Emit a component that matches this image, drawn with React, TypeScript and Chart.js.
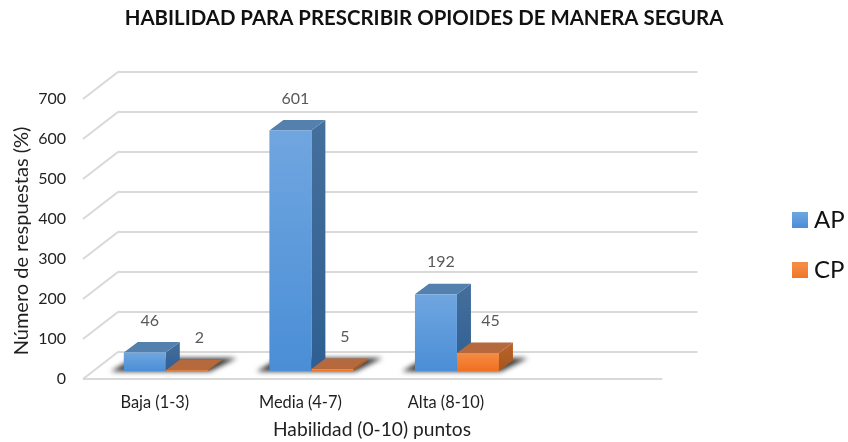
import React, { useEffect, useRef } from "react";
import { Chart, registerables } from "chart.js";

Chart.register(...registerables);

const categories = ["Baja (1-3)", "Media (4-7)", "Alta (8-10)", ""];
const apValues = [46, 601, 192, null];
const cpValues = [2, 5, 45, null];
const seriesNames = ["AP", "CP"];
const yTicksMax = 700;

const FONT = "Lato, Carlito, 'Open Sans', sans-serif";
const GRID = "#d9d9d9";
const DX = 14;
const DY = 10.5;

const palette = [
  { top: "#70a6e0", bottom: "#4a8ed6", roof: "#5480ad", sideA: "#456f9c", sideB: "#2f5f92" },
  { top: "#f58c45", bottom: "#f0701f", roof: "#b5693c", sideA: "#b8652c", sideB: "#a5561c" },
];

function poly(ctx: CanvasRenderingContext2D, pts: number[][], fill: any) {
  ctx.beginPath();
  pts.forEach((p, i) => (i ? ctx.lineTo(p[0], p[1]) : ctx.moveTo(p[0], p[1])));
  ctx.closePath();
  ctx.fillStyle = fill;
  ctx.fill();
}

const scene3d = {
  id: "scene3d",
  afterLayout(chart: any) {
    const l = chart.legend;
    if (l) {
      const h = l.bottom - l.top;
      l.left = 772;
      l.right = 848;
      l.top = 24;
      l.bottom = 24 + h;
    }
  },
  beforeDatasetsDraw(chart: any) {
    const { ctx, scales } = chart;
    const y = scales.y;
    const x = scales.x;
    ctx.save();
    ctx.strokeStyle = GRID;
    ctx.lineWidth = 2;
    y.ticks.forEach((t: any) => {
      const py = y.getPixelForValue(t.value);
      ctx.beginPath();
      ctx.moveTo(x.left - 10, py + 8);
      ctx.lineTo(x.left + 25, py - 19);
      ctx.lineTo(x.right + 22, py - 19);
      ctx.stroke();
    });
    const py0 = y.getPixelForValue(0);
    ctx.beginPath();
    ctx.moveTo(x.left - 10, py0 + 8);
    ctx.lineTo(x.right - 13, py0 + 8);
    ctx.stroke();

    const a = chart.getDatasetMeta(0).data;
    const b = chart.getDatasetMeta(1).data;
    // floor shadows
    a.forEach((el: any, i: number) => {
      if (apValues[i] == null) return;
      const l = el.x - el.width / 2;
      const r = b[i].x + b[i].width / 2;
      ctx.save();
      ctx.filter = "blur(2.5px)";
      poly(ctx, [[l - 13, py0 + 0.5], [r + 2, py0 + 0.5], [r + 29, py0 - 13], [l + 10, py0 - 13]], "#3a3a3a");
      ctx.restore();
    });
    // top + side faces
    [a, b].forEach((data: any[], d: number) => {
      const c = palette[d];
      data.forEach((el: any, i: number) => {
        if ((d ? cpValues : apValues)[i] == null) return;
        const l = el.x - el.width / 2;
        const r = el.x + el.width / 2;
        const t = el.y;
        const g = el.base;
        const sg = ctx.createLinearGradient(0, t - DY, 0, g);
        sg.addColorStop(0, c.sideA);
        sg.addColorStop(1, c.sideB);
        poly(ctx, [[r, t], [r + DX, t - DY], [r + DX, g - DY], [r, g]], sg);
        poly(ctx, [[l, t], [r, t], [r + DX, t - DY], [l + DX, t - DY]], c.roof);
      });
    });
    ctx.restore();
  },
  afterDatasetsDraw(chart: any) {
    const { ctx, scales } = chart;
    ctx.save();
    ctx.textAlign = "center";
    ctx.textBaseline = "middle";
    ctx.fillStyle = "#595959";
    ctx.font = `16px ${FONT}`;
    chart.data.datasets.forEach((ds: any, d: number) => {
      chart.getDatasetMeta(d).data.forEach((el: any, i: number) => {
        if (ds.data[i] == null) return;
        const dx = d ? 12.5 : 5;
        ctx.fillText(String(ds.data[i]), el.x + dx, el.y - 32);
      });
    });
    // axis titles
    ctx.fillStyle = "#1f1f1f";
    ctx.font = `19.2px ${FONT}`;
    ctx.fillText("Habilidad (0-10) puntos", scales.x.left + 279, 430);
    ctx.save();
    ctx.translate(22, scales.y.top + 150);
    ctx.rotate(-Math.PI / 2);
    ctx.font = `20px ${FONT}`;
    ctx.fillText("Número de respuestas (%)", 0, 0);
    ctx.restore();
    ctx.restore();
  },
};

function frontFill(d: number) {
  return (c: any) => {
    const chart = c.chart;
    const v = c.raw;
    const y = chart.scales && chart.scales.y;
    if (!y || v == null) return palette[d].top;
    const g = chart.ctx.createLinearGradient(0, y.getPixelForValue(v), 0, y.getPixelForValue(0));
    g.addColorStop(0, palette[d].top);
    g.addColorStop(1, palette[d].bottom);
    return g;
  };
}

export default function App() {
  const ref = useRef<HTMLCanvasElement>(null);
  useEffect(() => {
    const chart = new Chart(ref.current as HTMLCanvasElement, {
      type: "bar",
      plugins: [scene3d],
      data: {
        labels: categories,
        datasets: [
          { label: seriesNames[0], data: apValues, backgroundColor: frontFill(0), borderWidth: 0 },
          { label: seriesNames[1], data: cpValues, backgroundColor: frontFill(1), borderWidth: 0 },
        ],
      },
      options: {
        responsive: false,
        animation: false,
        layout: { padding: 0 },
        datasets: { bar: { barPercentage: 1, categoryPercentage: 0.577 } },
        plugins: {
          tooltip: { enabled: false },
          title: {
            display: true,
            text: "HABILIDAD PARA PRESCRIBIR OPIOIDES DE MANERA SEGURA",
            color: "#111111",
            font: { family: FONT, size: 20.4, weight: "bold" },
            padding: { top: 6, bottom: 60.5 },
          },
          legend: {
            position: "right",
            labels: {
              usePointStyle: true,
              pointStyle: "rect",
              boxWidth: 4,
              boxHeight: 16,
              padding: 26,
              color: "#111111",
              font: { family: FONT, size: 24 },
              generateLabels: (chart: any) =>
                seriesNames.map((text, i) => {
                  const g = chart.ctx.createLinearGradient(0, 212 + i * 53, 0, 228 + i * 53);
                  g.addColorStop(0, palette[i].top);
                  g.addColorStop(1, palette[i].bottom);
                  return { text, fillStyle: g, strokeStyle: "transparent", lineWidth: 0, datasetIndex: i, fontColor: "#111111", pointStyle: "rect" };
                }),
            },
          },
        },
        scales: {
          x: {
            grid: { display: false },
            border: { display: false },
            ticks: {
              padding: 14,
              labelOffset: -11,
              maxRotation: 0,
              autoSkip: false,
              color: "#1f1f1f",
              font: { family: FONT, size: 16.4 },
            },
            afterFit: (s: any) => {
              s.height = 71;
            },
          },
          y: {
            min: 0,
            max: yTicksMax,
            grid: { display: false },
            border: { display: false },
            ticks: {
              stepSize: 100,
              padding: 19,
              labelOffset: 8,
              color: "#1f1f1f",
              font: { family: FONT, size: 16 },
            },
            afterFit: (s: any) => {
              s.width = 93;
            },
          },
          spacer: {
            type: "linear",
            axis: "y",
            position: "right",
            display: true,
            grid: { display: false },
            border: { display: false },
            ticks: { display: false },
            afterFit: (s: any) => {
              s.width = 90;
            },
          },
        },
      } as any,
    });
    return () => chart.destroy();
  }, []);
  return (
    <div style={{ position: "absolute", left: 0, top: 0, width: 848, height: 442, background: "#fff" }}>
      <canvas ref={ref} width={848} height={442} style={{ display: "block" }} />
    </div>
  );
}
